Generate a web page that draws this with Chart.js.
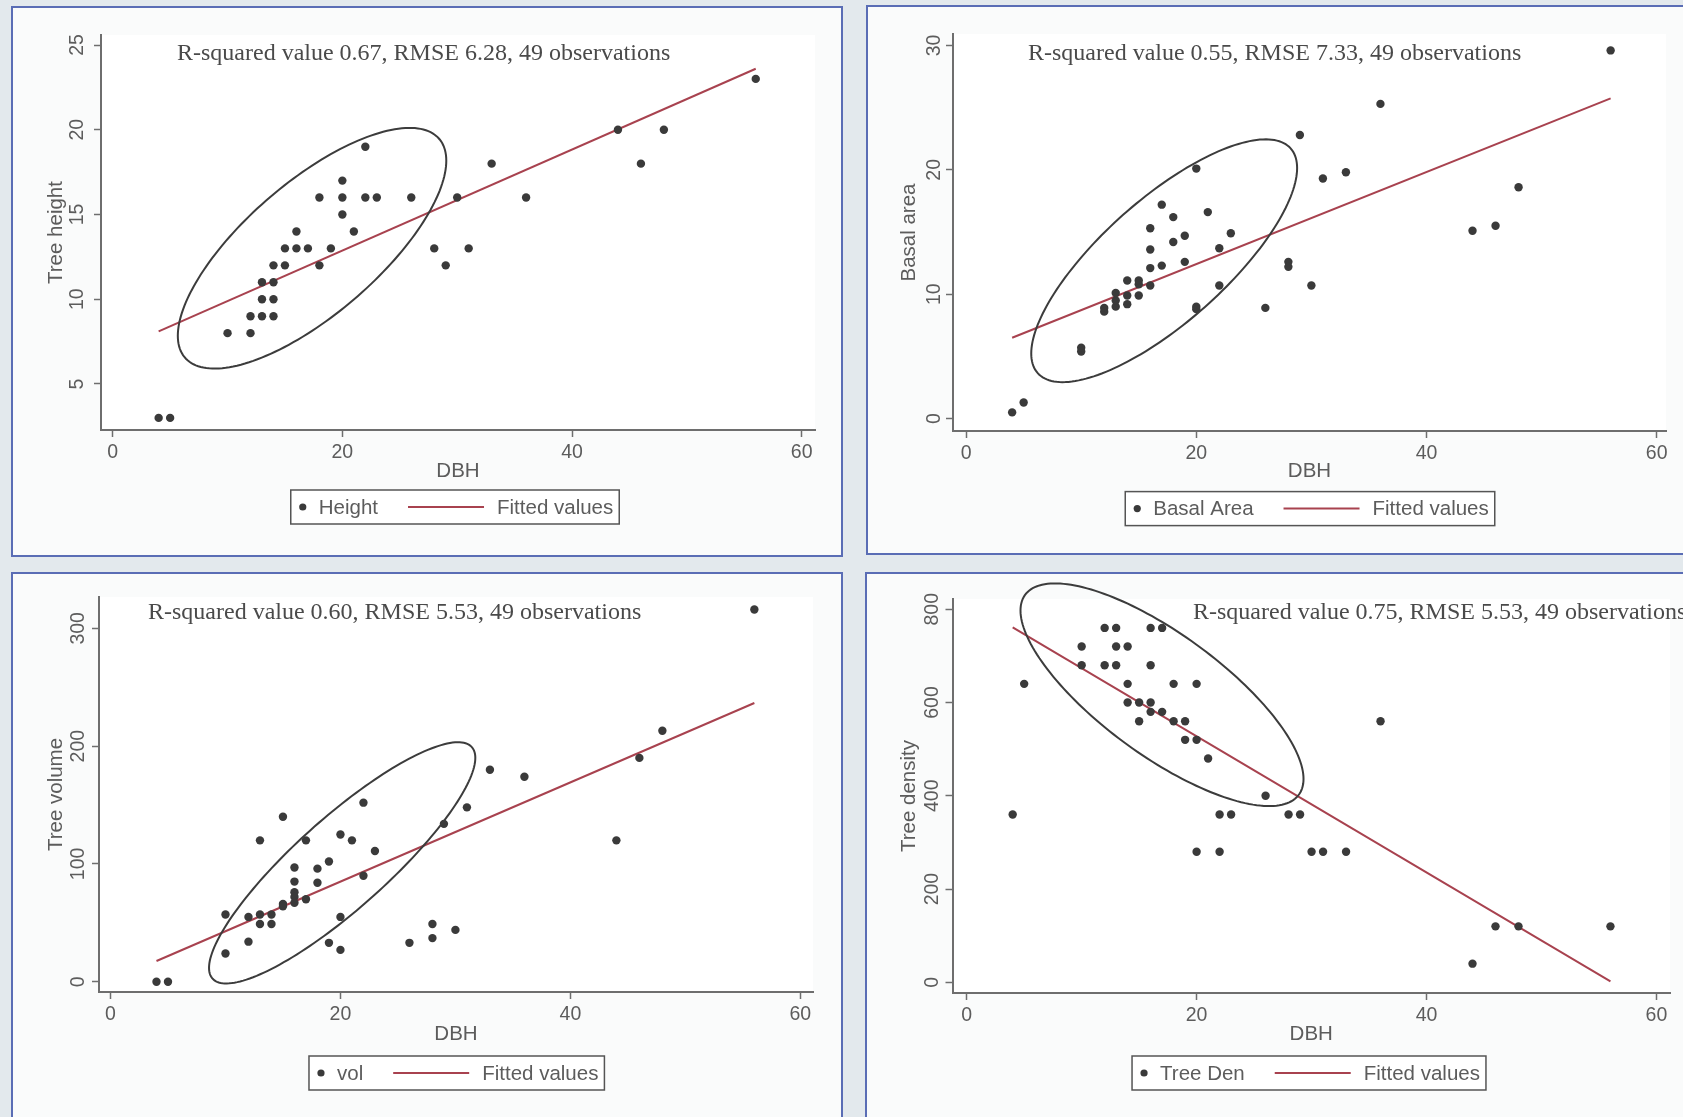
<!DOCTYPE html>
<html>
<head>
<meta charset="utf-8">
<script src="https://cdn.jsdelivr.net/npm/chart.js@4.4.0/dist/chart.umd.min.js"></script>
<style>
html, body { margin: 0; padding: 0; width: 1683px; height: 1117px; overflow: hidden; background: #e3e9ed; }
.panel { position: absolute; border: 2px solid #5a6db5; background: #fafbfb; }
.panel canvas { display: block; }
</style>
</head>
<body>
<div class="panel" style="left:11px;top:6px;width:828px;height:547px"><canvas id="c1"></canvas></div>
<div class="panel" style="left:866px;top:5px;width:830px;height:546px"><canvas id="c2"></canvas></div>
<div class="panel" style="left:11px;top:572px;width:828px;height:560px"><canvas id="c3"></canvas></div>
<div class="panel" style="left:865px;top:572px;width:831px;height:560px"><canvas id="c4"></canvas></div>
<script>
// axis ticks
const dbhTicks = [0, 20, 40, 60];
const heightTicks = [5, 10, 15, 20, 25];
const basalTicks = [0, 10, 20, 30];
const volTicks = [0, 100, 200, 300];
const denTicks = [0, 200, 400, 600, 800];

// tree height vs DBH
const heightDbh = [4, 5, 10, 12, 12, 13, 14, 13, 14, 13, 14, 14, 15, 15, 16, 16, 17, 18, 18, 19, 20, 20, 20, 21, 22, 22, 23, 26, 28, 29, 30, 31, 33, 36, 44, 46, 48, 56];
const heightVals = [3, 3, 8, 8, 9, 9, 9, 10, 10, 11, 11, 12, 12, 13, 13, 14, 13, 12, 16, 13, 17, 16, 15, 14, 19, 16, 16, 16, 13, 12, 16, 13, 18, 16, 20, 18, 20, 23];

// basal area vs DBH
const basalDbh = [4, 5, 10, 10, 12, 12, 13, 13, 13, 14, 14, 14, 15, 15, 15, 16, 16, 16, 16, 17, 17, 18, 18, 19, 19, 20, 20, 20, 21, 22, 22, 23, 26, 28, 28, 29, 30, 31, 33, 36, 44, 46, 48, 56];
const basalVals = [0.5, 1.3, 5.4, 5.7, 8.6, 8.9, 9.0, 9.5, 10.1, 9.2, 9.9, 11.1, 9.9, 10.8, 11.1, 10.7, 12.1, 13.6, 15.3, 12.3, 17.2, 14.2, 16.2, 12.6, 14.7, 20.1, 9.0, 8.8, 16.6, 13.7, 10.7, 14.9, 8.9, 12.6, 12.2, 22.8, 10.7, 19.3, 19.8, 25.3, 15.1, 15.5, 18.6, 29.6];

// tree volume vs DBH
const volDbh = [4, 5, 10, 10, 12, 12, 13, 13, 13, 14, 14, 15, 15, 15, 16, 16, 16, 16, 16, 17, 17, 18, 18, 19, 19, 20, 20, 20, 21, 22, 22, 23, 26, 28, 28, 29, 30, 31, 33, 36, 44, 46, 48, 56];
const volVals = [0, 0, 57, 24, 55, 34, 120, 57, 49, 57, 49, 140, 66, 64, 97, 85, 76, 72, 67, 120, 70, 96, 84, 102, 33, 125, 55, 27, 120, 152, 90, 111, 33, 49, 37, 134, 44, 148, 180, 174, 120, 190, 213, 316];

// tree density vs DBH
const denDbh = [4, 5, 10, 10, 12, 12, 13, 13, 13, 14, 14, 14, 15, 15, 16, 16, 16, 16, 17, 17, 18, 18, 19, 19, 20, 20, 20, 21, 22, 22, 23, 26, 28, 29, 30, 31, 33, 36, 44, 46, 48, 56];
const denVals = [360, 640, 720, 680, 760, 680, 760, 720, 680, 720, 640, 600, 600, 560, 760, 680, 600, 580, 760, 580, 640, 560, 560, 520, 640, 520, 280, 480, 360, 280, 360, 400, 360, 360, 280, 280, 280, 560, 40, 120, 120, 120];

// fitted lines (end points)
const fitDbh = [4, 56];
const heightFit = [8.1, 23.6];
const basalFit = [6.5, 25.75];
const volFit = [17.6, 236.6];
const denFit = [761, 2];

// ellipses: centre x, centre y, half width, half height, x of topmost point
const heightEllipse = [17.36, 13.01, 11.69, 7.10, 25.86];
const basalEllipse = [17.21, 12.69, 11.55, 9.76, 26.03];
const volEllipse = [20.15, 100.9, 11.58, 102.4, 30.23];
const denEllipse = [16.99, 616.7, 12.31, 238.7, 7.68];

const GRAY = '#5c5c5c';
const AXIS = '#6e6e6e';
const DOT = '#3a3a3a';
const FIT = '#a8424f';
const SANS = "'Liberation Sans', Arial, sans-serif";
const SERIF = "'Liberation Serif', 'Times New Roman', serif";
Chart.defaults.font.family = SANS;

const plotBg = {
  id: 'plotBg',
  beforeDraw(chart) {
    const a = chart.chartArea, ctx = chart.ctx;
    ctx.save();
    ctx.fillStyle = '#ffffff';
    ctx.fillRect(a.left, a.top, a.right - a.left, a.bottom - a.top);
    ctx.restore();
  }
};

const ellipse = {
  id: 'ellipse',
  afterDatasetsDraw(chart, args, opts) {
    const [cx, cy, wx, hy, topX] = opts.shape;
    const uy = (topX - cx) * hy / wx;
    const vy = Math.sqrt(hy * hy - uy * uy);
    const xs = chart.scales.x, ys = chart.scales.y, ctx = chart.ctx;
    ctx.save();
    ctx.beginPath();
    for (let i = 0; i <= 180; i++) {
      const t = i / 180 * Math.PI * 2;
      const px = xs.getPixelForValue(cx + wx * Math.cos(t));
      const py = ys.getPixelForValue(cy + uy * Math.cos(t) + vy * Math.sin(t));
      if (i === 0) ctx.moveTo(px, py); else ctx.lineTo(px, py);
    }
    ctx.closePath();
    ctx.strokeStyle = '#3c3c3c';
    ctx.lineWidth = 2;
    ctx.stroke();
    ctx.restore();
  }
};

const note = {
  id: 'note',
  afterDraw(chart, args, opts) {
    const ctx = chart.ctx;
    ctx.save();
    ctx.font = '24px ' + SERIF;
    ctx.fillStyle = '#4a4a4a';
    ctx.textBaseline = 'alphabetic';
    ctx.fillText(opts.text, opts.x, opts.y);
    ctx.restore();
  }
};

const boxLegend = {
  id: 'boxLegend',
  afterDraw(chart, args, opts) {
    const ctx = chart.ctx;
    const [pts, fit] = chart.data.datasets;
    ctx.save();
    ctx.font = '20.5px ' + SANS;
    const w1 = ctx.measureText(pts.label).width;
    const w2 = ctx.measureText(fit.label).width;
    const width = 12 + 16 + w1 + 30 + 76 + 13 + w2 + 6;
    const left = opts.cx - width / 2, top = opts.top, h = 34, mid = top + h / 2;
    ctx.fillStyle = '#ffffff';
    ctx.fillRect(left, top, width, h);
    ctx.strokeStyle = '#555555';
    ctx.lineWidth = 1.5;
    ctx.strokeRect(left, top, width, h);
    ctx.fillStyle = pts.backgroundColor;
    ctx.beginPath();
    ctx.arc(left + 12, mid, 3.6, 0, Math.PI * 2);
    ctx.fill();
    ctx.fillStyle = GRAY;
    ctx.textBaseline = 'middle';
    ctx.fillText(pts.label, left + 28, mid + 1);
    const lx = left + 28 + w1 + 30;
    ctx.strokeStyle = fit.borderColor;
    ctx.lineWidth = 2;
    ctx.beginPath();
    ctx.moveTo(lx, mid);
    ctx.lineTo(lx + 76, mid);
    ctx.stroke();
    ctx.fillText(fit.label, lx + 76 + 13, mid + 1);
    ctx.restore();
  }
};

function makeChart(id, L) {
  const canvas = document.getElementById(id);
  canvas.width = L.w;
  canvas.height = L.h;
  const XH = 60;
  const yW = L.left - L.ox;
  const padTop = L.top - L.oy;
  const padRight = L.w - (L.right - L.ox);
  const padBottom = L.h - (L.bottom - L.oy) - XH;
  const tickFont = { size: 19.5, family: SANS };
  const titleFont = { size: 20.5, family: SANS };
  return new Chart(canvas, {
    type: 'scatter',
    data: {
      datasets: [
        {
          label: L.label,
          data: L.xs.map((x, i) => ({ x: x, y: L.ys[i] })),
          backgroundColor: DOT,
          borderWidth: 0,
          pointRadius: 4.2,
        },
        {
          label: 'Fitted values',
          data: fitDbh.map((x, i) => ({ x: x, y: L.fit[i] })),
          showLine: true,
          borderColor: FIT,
          backgroundColor: FIT,
          borderWidth: 2,
          pointRadius: 0,
        },
      ],
    },
    options: {
      responsive: false,
      animation: false,
      layout: { padding: { left: 0, top: padTop, right: padRight, bottom: padBottom } },
      plugins: {
        legend: { display: false },
        tooltip: { enabled: false },
        ellipse: { shape: L.ellipse },
        note: { text: L.note, x: L.noteX - L.ox, y: L.noteY - L.oy },
        boxLegend: { cx: L.legendX - L.ox, top: L.legendTop - L.oy },
      },
      scales: {
        x: {
          type: 'linear',
          min: L.xMin,
          max: L.xMax,
          afterBuildTicks: s => { s.ticks = dbhTicks.map(v => ({ value: v })); },
          afterFit: s => { s.height = XH; },
          grid: { drawOnChartArea: false, drawTicks: true, tickLength: 7, tickColor: AXIS, tickWidth: 1.5 },
          border: { display: true, color: AXIS, width: 2 },
          ticks: { font: tickFont, color: GRAY, padding: 4, maxRotation: 0, autoSkip: false },
          title: { display: true, text: 'DBH', font: titleFont, color: GRAY, padding: { top: 0, bottom: L.xTitlePad } },
        },
        y: {
          type: 'linear',
          min: L.yMin,
          max: L.yMax,
          afterBuildTicks: s => { s.ticks = L.yTicks.map(v => ({ value: v })); },
          afterFit: s => { s.width = yW; },
          grid: { drawOnChartArea: false, drawTicks: true, tickLength: 7, tickColor: AXIS, tickWidth: 1.5 },
          border: { display: true, color: AXIS, width: 2 },
          ticks: { font: tickFont, color: GRAY, padding: L.yTickPad, minRotation: 90, maxRotation: 90, crossAlign: 'center', autoSkip: false },
          title: { display: true, text: L.yTitle, font: titleFont, color: GRAY, padding: { top: L.yTitlePad, bottom: 0 } },
        },
      },
    },
    plugins: [plotBg, ellipse, note, boxLegend],
  });
}

makeChart('c1', {
  ox: 13, oy: 8, w: 828, h: 547,
  left: 101, right: 815, top: 35, bottom: 430,
  xMin: -1.02, xMax: 61.16, yMin: 2.286, yMax: 25.59,
  xs: heightDbh, ys: heightVals, fit: heightFit, ellipse: heightEllipse, yTicks: heightTicks,
  label: 'Height', yTitle: 'Tree height',
  yTickPad: 5.2, yTitlePad: 30.7, xTitlePad: 6.7,
  note: 'R-squared value 0.67, RMSE 6.28, 49 observations', noteX: 177, noteY: 60,
  legendX: 455, legendTop: 490,
});

makeChart('c2', {
  ox: 868, oy: 7, w: 830, h: 546,
  left: 953, right: 1666, top: 34, bottom: 431,
  xMin: -1.138, xMax: 60.81, yMin: -0.997, yMax: 30.92,
  xs: basalDbh, ys: basalVals, fit: basalFit, ellipse: basalEllipse, yTicks: basalTicks,
  label: 'Basal Area', yTitle: 'Basal area',
  yTickPad: 1, yTitlePad: 28.7, xTitlePad: 7.7,
  note: 'R-squared value 0.55, RMSE 7.33, 49 observations', noteX: 1028, noteY: 60,
  legendX: 1310, legendTop: 491.6,
});

makeChart('c3', {
  ox: 13, oy: 574, w: 828, h: 560,
  left: 99, right: 813, top: 597, bottom: 992,
  xMin: -1.0, xMax: 61.1, yMin: -8.74, yMax: 326.6,
  xs: volDbh, ys: volVals, fit: volFit, ellipse: volEllipse, yTicks: volTicks,
  label: 'vol', yTitle: 'Tree volume',
  yTickPad: -3.1, yTitlePad: 30.7, xTitlePad: 5.4,
  note: 'R-squared value 0.60, RMSE 5.53, 49 observations', noteX: 148, noteY: 619,
  legendX: 456.7, legendTop: 1056,
});

makeChart('c4', {
  ox: 867, oy: 574, w: 831, h: 560,
  left: 952.5, right: 1670, top: 599, bottom: 993,
  xMin: -1.235, xMax: 61.18, yMin: -22.9, yMax: 822,
  xs: denDbh, ys: denVals, fit: denFit, ellipse: denEllipse, yTicks: denTicks,
  label: 'Tree Den', yTitle: 'Tree density',
  yTickPad: -2.9, yTitlePad: 29.7, xTitlePad: 6.4,
  note: 'R-squared value 0.75, RMSE 5.53, 49 observations', noteX: 1193, noteY: 618.6,
  legendX: 1309, legendTop: 1056,
});
</script>
</body>
</html>
